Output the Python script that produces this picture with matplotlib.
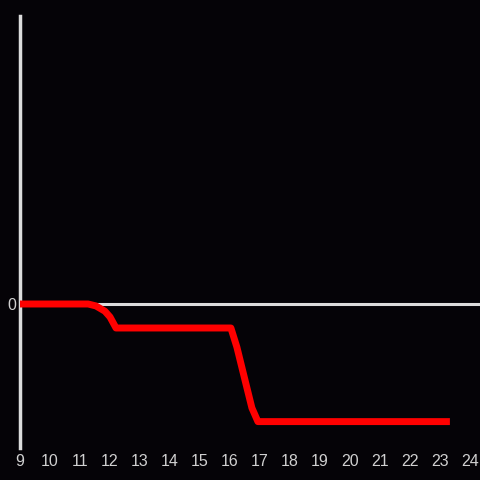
import matplotlib.pyplot as plt

# ---------------- DATA ----------------
x_vals = [9.0, 11.27, 11.53, 11.83, 12.0, 12.2, 16.03, 16.23, 16.5, 16.73, 16.93, 23.33]
y_vals = [0.0, 0.0, -0.08, -0.3, -0.54, -1.0, -1.0, -1.8, -3.17, -4.33, -4.9, -4.9]
x_ticks = list(range(9, 25))
y_ticks = [0]

BG = "#050307"
AXIS_COLOR = "#dcdcdc"
TEXT_COLOR = "#d0d0d0"

plt.rcParams['font.family'] = ['Liberation Sans', 'DejaVu Sans']

fig = plt.figure(figsize=(4.8, 4.8), dpi=100, facecolor=BG)
ax = fig.add_axes([20 / 480, 32 / 480, 460 / 480, 432 / 480], facecolor=BG)

ax.axhline(0, color=AXIS_COLOR, linewidth=2.2, zorder=1)
ax.plot(x_vals, y_vals, color="#ff0000", linewidth=5, solid_joinstyle='round',
        solid_capstyle='butt', zorder=3)

ax.set_xlim(9, 9 + 460 / 30)
ax.set_ylim(-6, 12)

for side in ('top', 'right', 'bottom'):
    ax.spines[side].set_visible(False)
ax.spines['left'].set_color(AXIS_COLOR)
ax.spines['left'].set_linewidth(2.5)

ax.set_xticks(x_ticks)
ax.set_xticklabels([str(t) for t in x_ticks])
ax.set_yticks(y_ticks)
ax.set_yticklabels(["0"])
ax.tick_params(axis='both', length=0, colors=TEXT_COLOR, labelsize=11.5)
ax.tick_params(axis='x', pad=4)
ax.tick_params(axis='y', pad=3)

fig.savefig("out.png", dpi=100, facecolor=BG)
